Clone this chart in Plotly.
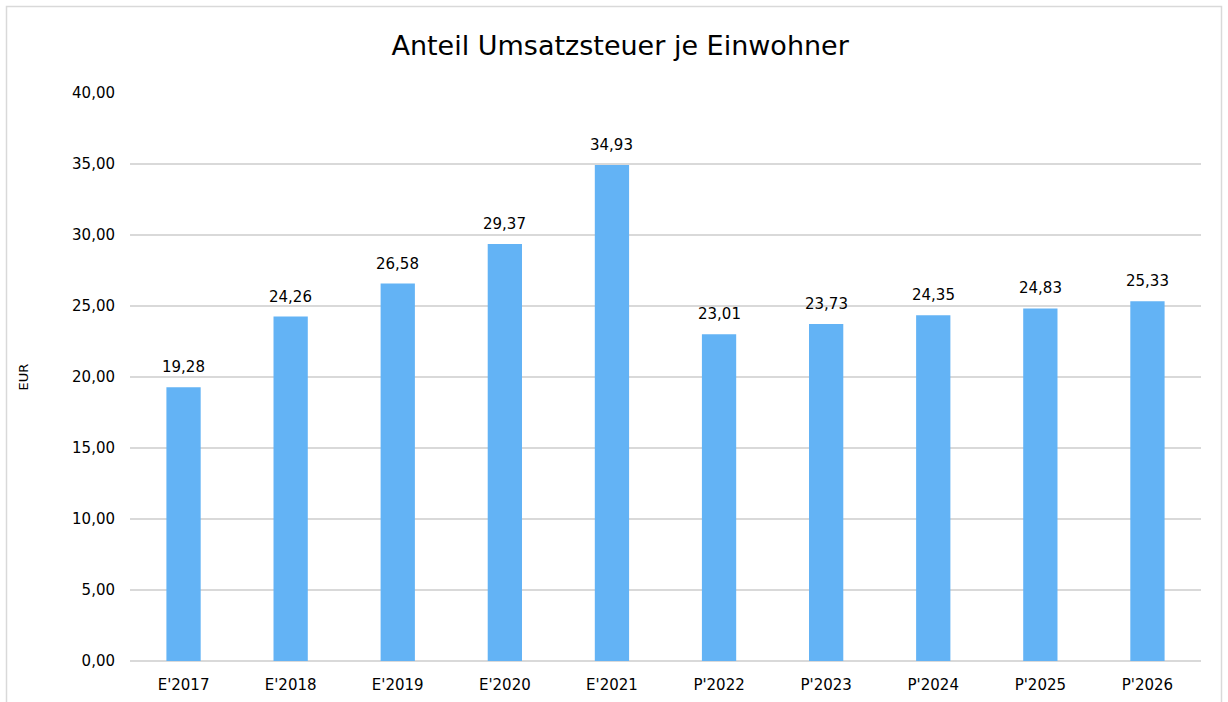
import plotly.graph_objects as go

categories = ["E'2017", "E'2018", "E'2019", "E'2020", "E'2021",
              "P'2022", "P'2023", "P'2024", "P'2025", "P'2026"]
values = [19.28, 24.26, 26.58, 29.37, 34.93, 23.01, 23.73, 24.35, 24.83, 25.33]
y_ticks = [0, 5, 10, 15, 20, 25, 30, 35, 40]

FONT = "DejaVu Sans, Verdana, sans-serif"

fig = go.Figure(go.Bar(
    x=categories, y=values,
    marker=dict(color="#63B3F5", line=dict(width=0)),
    width=0.32,
    hovertemplate="%{x}: %{y:.2f}<extra></extra>",
))

for c, v in zip(categories, values):
    fig.add_annotation(x=c, y=v, xref="x", yref="y",
                       text=f"{v:.2f}".replace(".", ","),
                       showarrow=False, yanchor="bottom", yshift=9,
                       font=dict(family=FONT, size=15, color="#000000"))

L, R, T, B = 130, 27, 93, 41
W, H = 1228, 702
pw, ph = W - L - R, H - T - B

def px_x(x):
    return (x - L) / pw

def px_y(y):
    return (H - B - y) / ph

fig.update_layout(
    width=W, height=H,
    margin=dict(l=L, r=R, t=T, b=B),
    paper_bgcolor="white", plot_bgcolor="white",
    separators=",.",
    font=dict(family=FONT, size=15, color="#000000"),
    title=dict(text="Anteil Umsatzsteuer je Einwohner", x=0.505, xanchor="center",
               y=1 - 46 / H, yanchor="middle",
               font=dict(family=FONT, size=27, color="#000000")),
    bargap=0.68,
    showlegend=False,
    xaxis=dict(showgrid=False, showline=False, zeroline=False, automargin=False,
               ticks="outside", ticklen=10, tickcolor="rgba(0,0,0,0)",
               tickfont=dict(family=FONT, size=15, color="#000000")),
    yaxis=dict(range=[0, 40], tickvals=y_ticks, tickformat=".2f", automargin=False,
               showgrid=True, gridcolor="#D9D9D9", gridwidth=2,
               zeroline=True, zerolinecolor="#D9D9D9", zerolinewidth=2,
               showline=False, ticks="outside", ticklen=11, tickcolor="rgba(0,0,0,0)",
               tickfont=dict(family=FONT, size=15, color="#000000"),
               title=dict(text="EUR", font=dict(family=FONT, size=13, color="#000000"),
                          standoff=40)),
    shapes=[dict(type="path", xref="paper", yref="paper",
                 path=f"M {px_x(6.5)} {px_y(710)} L {px_x(6.5)} {px_y(6.5)} L {px_x(1221.5)} {px_y(6.5)} L {px_x(1221.5)} {px_y(710)}",
                 line=dict(color="#D9D9D9", width=1.5))],
)

fig.write_html("out.html", config={"displayModeBar": False},
               post_script="document.body.style.margin='0';document.body.style.padding='0';")
